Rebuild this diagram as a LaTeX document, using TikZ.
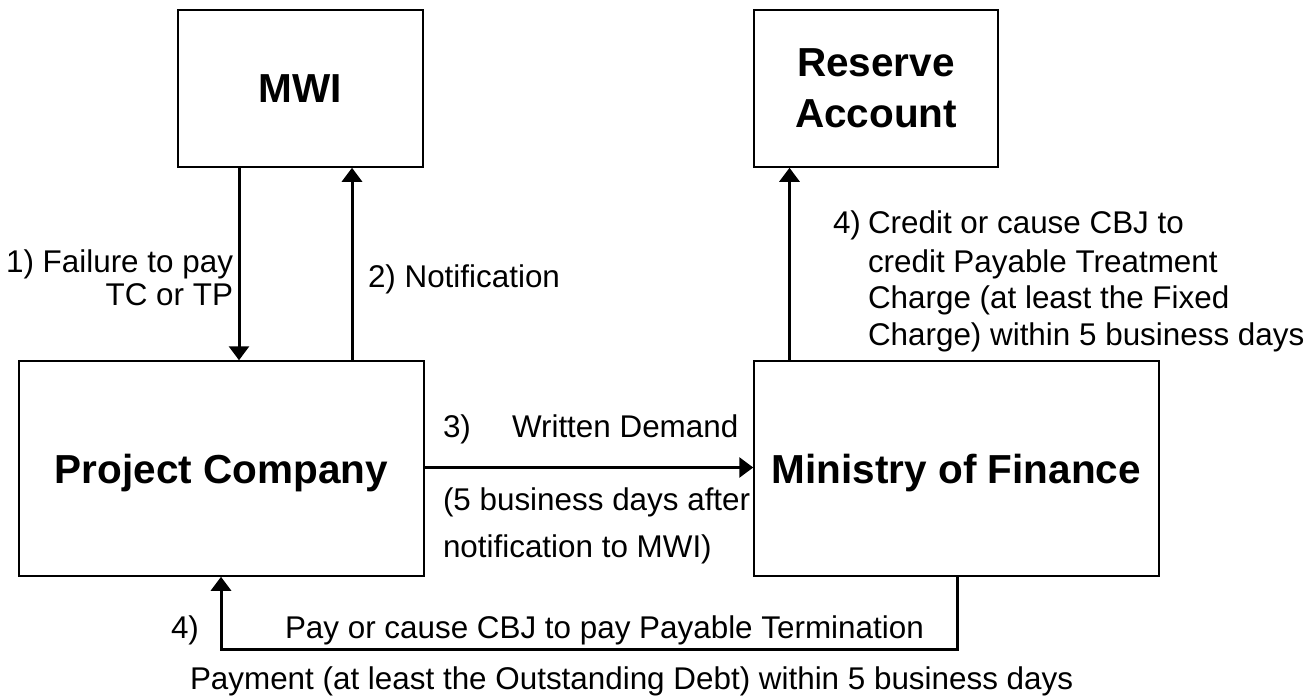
\documentclass[tikz,border=0pt]{standalone}
\usepackage{fontspec}
\setmainfont{Liberation Sans}
\usetikzlibrary{arrows.meta}
\newcommand\myBig{\fontsize{40.5}{51}\selectfont\bfseries}
\newcommand\myLab{\fontsize{31.4}{37}\selectfont}
\tikzset{
  boxst/.style={draw=black, line width=1.5pt, fill=white, rectangle, inner sep=0pt, align=center, font=\myBig},
  arr/.style={draw=black, line width=3pt, -{Triangle[width=20pt,length=14pt]}},
  txt/.style={inner sep=0pt, outer sep=0pt, font=\myLab}
}
\begin{document}
\begin{tikzpicture}[x=1pt,y=-1pt]
\useasboundingbox[fill=white] (0,0) rectangle (1307,696);

% boxes
\node[boxst, minimum width=245pt, minimum height=157pt] (mwi) at (300.5,88.5) {MWI};
\node[boxst, minimum width=244pt, minimum height=157pt] (res) at (876,88.5) {Reserve\\Account};
\node[boxst, minimum width=405pt, minimum height=215pt, text depth=0pt] (pc) at (221.5,468.5) {Project Company};
\node[boxst, minimum width=405pt, minimum height=215pt, text depth=0pt] (mof) at (956.5,468.5) {Ministry of Finance};

% helper coordinates
\coordinate (xa) at (239,0);
\coordinate (xb) at (352,0);
\coordinate (xc) at (789.5,0);
\coordinate (ya) at (0,467.5);
\coordinate (br) at (957,649);
\coordinate (bl) at (221,649);

% connectors
\draw[arr] (mwi.south -| xa) -- (pc.north -| xa);
\draw[arr] (pc.north -| xb) -- (mwi.south -| xb);
\draw[arr] (pc.east |- ya) -- (mof.west |- ya);
\draw[arr] (mof.north -| xc) -- (res.south -| xc);
\draw[arr] (mof.south -| br) -- (br) -- (bl) -- (pc.south -| bl);

% labels
\node[txt, anchor=base east] (t1a) at (233,272) {1) Failure to pay};
\node[txt, anchor=base east] (t1b) at (233,305) {TC or TP};
\node[txt, anchor=base west] (t2) at (368,287) {2) Notification};

\node[txt, anchor=base west] (t3a) at (443,437) {3)};
\node[txt, anchor=base west] (t3b) at (512,437) {Written Demand};
\node[txt, anchor=base west] (t3c) at (443,510) {(5 business days after};
\node[txt, anchor=base west] (t3d) at (443,557) {notification to MWI)};

\node[txt, anchor=base west] (t4a) at (833,233) {4)};
\node[txt, anchor=base west] (t4b) at (868,233) {Credit or cause CBJ to};
\node[txt, anchor=base west] (t4c) at (868,272) {credit Payable Treatment};
\node[txt, anchor=base west] (t4d) at (868,308) {Charge (at least the Fixed};
\node[txt, anchor=base west] (t4e) at (868,345) {Charge) within 5 business days};

\node[txt, anchor=base west] (t5a) at (171,638) {4)};
\node[txt, anchor=base west] (t5b) at (285,638) {Pay or cause CBJ to pay Payable Termination};
\node[txt, anchor=base west] (t5c) at (190,689) {Payment (at least the Outstanding Debt) within 5 business days};
\end{tikzpicture}
\end{document}
